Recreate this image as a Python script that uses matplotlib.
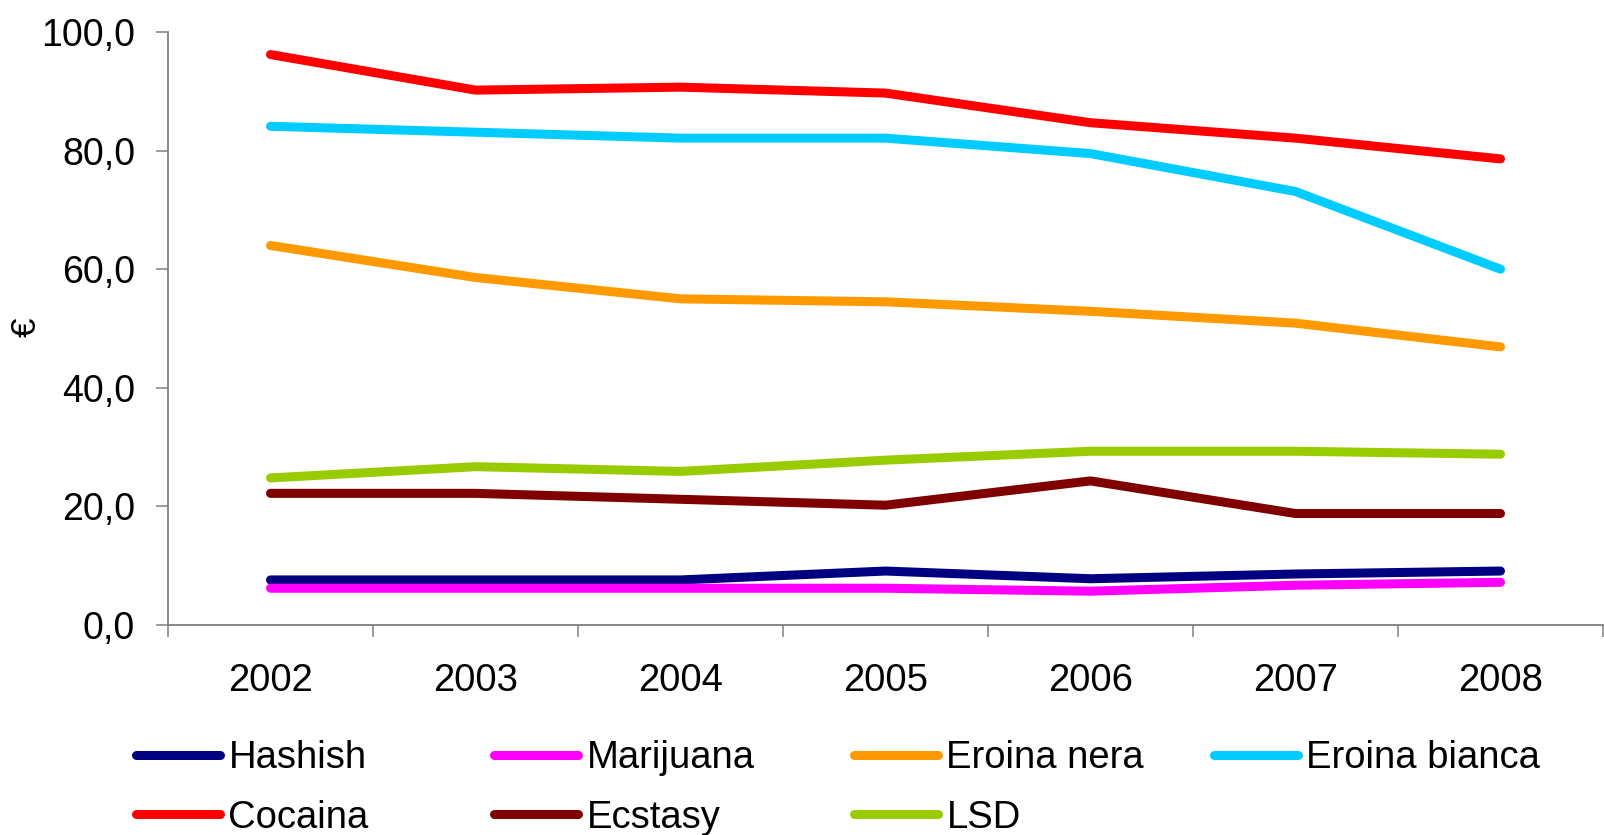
import numpy as np
import matplotlib
matplotlib.use('Agg')
import matplotlib.pyplot as plt

#-----------------------------------------------------------------------------------------------------------------------------------

years = ['2002', '2003', '2004', '2005', '2006', '2007', '2008']

hashish       = [7.6, 7.6, 7.6, 9.1, 7.8, 8.6, 9.1]
marijuana     = [6.2, 6.2, 6.2, 6.2, 5.7, 6.7, 7.2]
eroina_nera   = [64.0, 58.6, 55.0, 54.5, 52.9, 50.9, 46.9]
eroina_bianca = [84.1, 83.1, 82.1, 82.1, 79.5, 73.1, 60.0]
cocaina       = [96.2, 90.2, 90.7, 89.7, 84.7, 82.1, 78.6]
ecstasy       = [22.2, 22.2, 21.2, 20.2, 24.3, 18.8, 18.8]
lsd           = [24.8, 26.7, 25.9, 27.8, 29.3, 29.3, 28.8]

names  = ['Hashish', 'Marijuana', 'Eroina nera', 'Eroina bianca', 'Cocaina', 'Ecstasy', 'LSD']
series = [hashish, marijuana, eroina_nera, eroina_bianca, cocaina, ecstasy, lsd]
colours = ['#000080', '#FF00FF', '#FF9900', '#00CCFF', '#FF0000', '#800000', '#99CC00']

yticks = [0, 20, 40, 60, 80, 100]

#-----------------------------------------------------------------------------------------------------------------------------------

plt.rcParams['font.family'] = ['Liberation Sans', 'DejaVu Sans']

W, H = 1604, 835
fig = plt.figure(figsize=(W/100, H/100), dpi=100)
ax = fig.add_axes([168/W, 1-625/H, (1603-168)/W, (625-32)/H])

x = np.arange(len(years))
lines = []
for vals, name, col in zip(series, names, colours):
    ln, = ax.plot(x, vals, color=col, lw=6.5, solid_capstyle='round', solid_joinstyle='round', label=name)
    lines.append(ln)

ax.set_xlim(-0.5, len(years)-0.5)
ax.set_ylim(0, 100)
ax.set_yticks(yticks)
ax.set_yticklabels([('%.1f' % v).replace('.', ',') for v in yticks])
ax.set_xticks(x)
ax.set_xticklabels(years)
ax.set_xticks(np.arange(-0.5, len(years)), minor=True)

for s in ['top', 'right']:
    ax.spines[s].set_visible(False)
for s in ['left', 'bottom']:
    ax.spines[s].set_color('#808080')
    ax.spines[s].set_linewidth(1.3)

ax.tick_params(axis='y', which='major', direction='out', length=8.6, width=1.1, color='#808080', labelsize=27, pad=15)
ax.tick_params(axis='x', which='major', length=0, labelsize=27.5, pad=27.5)
ax.tick_params(axis='x', which='minor', direction='out', length=8.6, width=1.1, color='#808080')

fig.text(26/W, 1-327/H, '€', rotation=90, ha='center', va='center', fontsize=25)

# legend: four columns, evenly spaced like the original
colx = [136, 494, 854, 1214]
groups = [[0, 4], [1, 5], [2, 6], [3]]
for cx, g in zip(colx, groups):
    fig.legend([lines[i] for i in g], [names[i] for i in g],
               loc='upper left', bbox_to_anchor=(cx/W, 1-740/H),
               frameon=False, fontsize=27.5, handlelength=2.2, handletextpad=0.22,
               borderpad=0, borderaxespad=0, labelspacing=0.62)

plt.savefig('out.png', dpi=100)
